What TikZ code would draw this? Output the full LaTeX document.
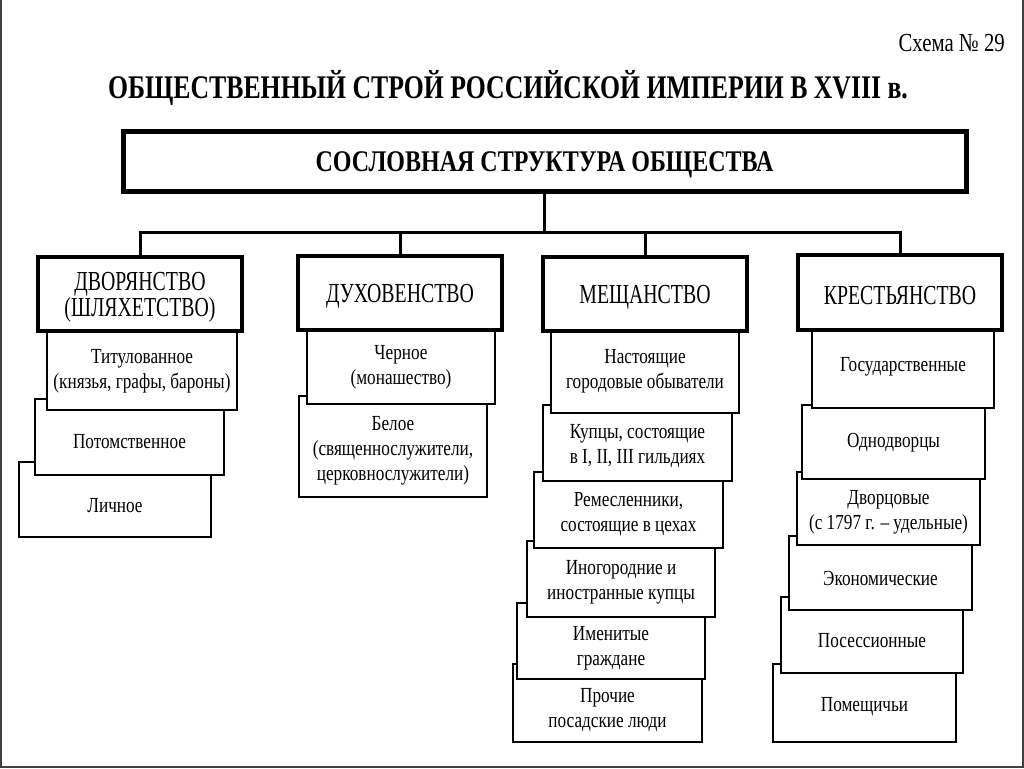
\documentclass[tikz,border=0pt]{standalone}
\usepackage{fontspec}
\setmainfont{Liberation Serif}[FakeStretch=0.8]
\newfontfamily\headfont{Liberation Serif}[FakeStretch=0.72]
\newfontfamily\titlefont{Liberation Serif}[FakeStretch=0.78]
\tikzset{
  topbox/.style={draw, line width=5, fill=white, inner sep=0},
  headbox/.style={draw, line width=3.5, fill=white, inner sep=0, align=center, text depth=0,
    font=\headfont\fontsize{27.5}{24.5}\selectfont},
  subbox/.style={draw, line width=2, fill=white, inner sep=0},
  subtxt/.style={align=center, inner sep=0, font=\fontsize{21.5}{25}\selectfont},
  conn/.style={line width=3, line join=miter},
  frame/.style={line width=2, black!75}
}
\newcommand\SubBox[7]{%
  \node[subbox, minimum width={#4-#2}, minimum height={#5-#3}] (#1) at ({(#2+#4)/2},{(#3+#5)/2}) {};
  \node[subtxt] (#1t) at ({(#2+#4)/2},#6) {#7};}
\newcommand\HeadBox[7][]{%
  \node[headbox, minimum width={#5-#3}, minimum height={#6-#4}, #1] (#2) at ({(#3+#5)/2},{(#4+#6)/2}) {#7};}
\begin{document}
\begin{tikzpicture}[x=1pt,y=-1pt]
\useasboundingbox (0,0) rectangle (1024,768);
\draw[frame] (1,0) -- (1,767) -- (1023,767) -- (1023,0);

\node[anchor=base east, inner sep=0, font=\fontsize{26}{26}\selectfont] (scheme) at (1005,52) {Схема № 29};
\node[anchor=base, inner sep=0, font=\titlefont\fontsize{33}{33}\selectfont\bfseries] (title) at (508,98)
  {ОБЩЕСТВЕННЫЙ СТРОЙ РОССИЙСКОЙ ИМПЕРИИ В XVIII в.};

\node[topbox, minimum width=843, minimum height=60, text height=20, text depth=0,
  font=\fontsize{30}{30}\selectfont\bfseries] (top) at (544.5,161)
  {СОСЛОВНАЯ СТРУКТУРА ОБЩЕСТВА};

% Dvoryanstvo column
\SubBox{dv3}{19}{462}{211}{537}{506}{Личное}
\SubBox{dv2}{35}{399}{224}{475}{442}{Потомственное}
\SubBox{dv1}{47}{331}{237}{410}{371}{Титулованное\\(князья, графы, бароны)}
\HeadBox{dv}{38}{257}{242}{331}{ДВОРЯНСТВО\\(ШЛЯХЕТСТВО)}

% Dukhovenstvo column
\SubBox{du2}{299}{396}{487}{497}{451}{Белое\\(священнослужители,\\церковнослужители)}
\SubBox{du1}{307}{330}{495}{404}{367}{Черное\\(монашество)}
\HeadBox{du}{298}{256}{502}{330}{ДУХОВЕНСТВО}

% Meshchanstvo column
\SubBox{me6}{513}{664}{702}{742}{710}{Прочие\\посадские люди}
\SubBox{me5}{517}{603}{705}{679}{648}{Именитые\\граждане}
\SubBox{me4}{527}{541}{715}{617}{582}{Иногородние и\\иностранные купцы}
\SubBox{me3}{534}{472}{723}{548}{514}{Ремесленники,\\состоящие в цехах}
\SubBox{me2}{543}{405}{732}{481}{446}{Купцы, состоящие\\в I, II, III гильдиях}
\SubBox{me1}{551}{331}{739}{413}{371}{Настоящие\\городовые обыватели}
\HeadBox{me}{543}{257}{747}{331}{МЕЩАНСТВО}

% Krestyanstvo column
\SubBox{kr6}{773}{664}{956}{742}{707}{Помещичьи}
\SubBox{kr5}{781}{597}{963}{673}{641}{Посессионные}
\SubBox{kr4}{789}{536}{972}{610}{578}{Экономические}
\SubBox{kr3}{797}{472}{980}{545}{512}{Дворцовые\\(с 1797 г. – удельные)}
\SubBox{kr2}{802}{405}{985}{479}{443}{Однодворцы}
\SubBox{kr1}{812}{330}{994}{408}{367}{Государственные}
\HeadBox[text height=23]{kr}{798}{255}{1002}{330}{КРЕСТЬЯНСТВО}

% connectors
\coordinate (bus) at (545,232);
\draw[conn] (top.south) -- (top.south |- bus);
\draw[conn] (dv.north) -- (dv.north |- bus) -- (kr.north |- bus) -- (kr.north);
\draw[conn] (du.north |- bus) -- (du.north);
\draw[conn] (me.north |- bus) -- (me.north);
\end{tikzpicture}
\end{document}
